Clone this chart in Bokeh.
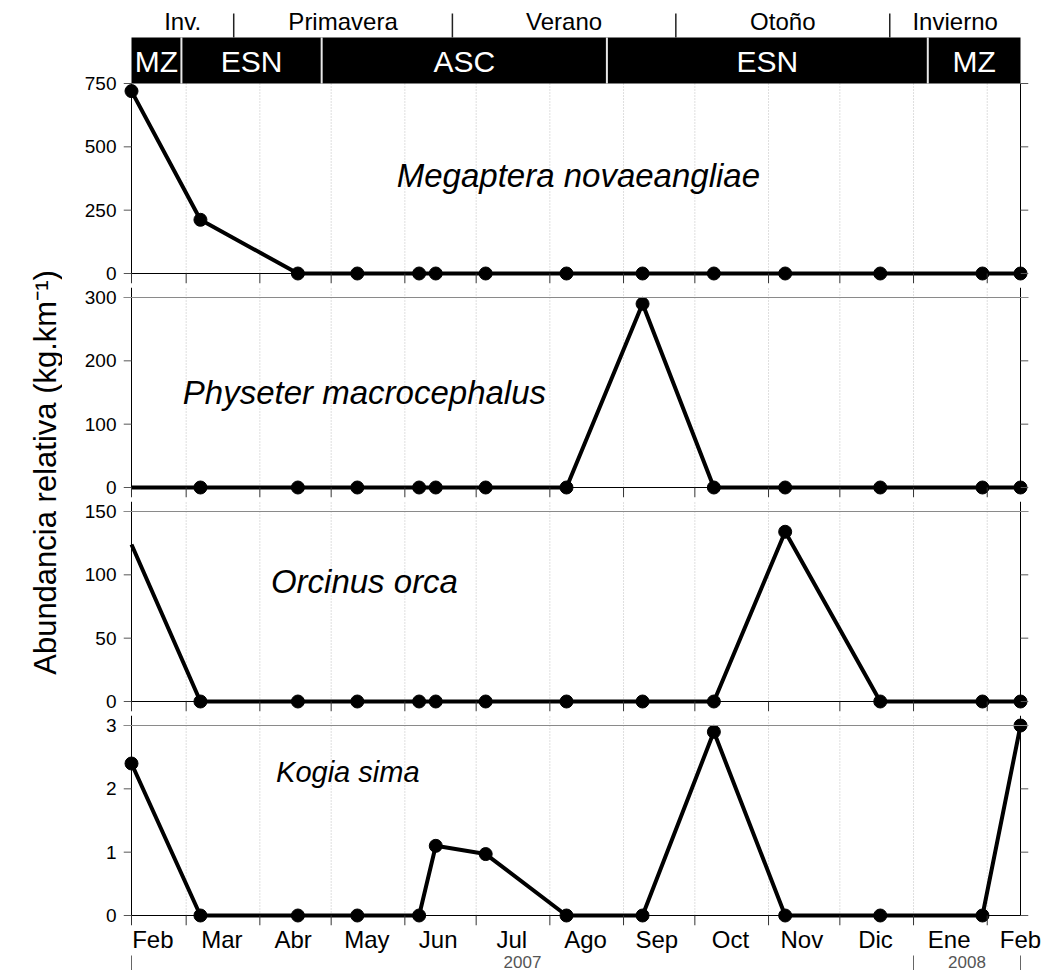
import pandas as pd
from math import pi
from bokeh.plotting import figure
from bokeh.layouts import column, row
from bokeh.models import Range1d, FixedTicker, LinearAxis, Span, Label
from bokeh.core.properties import value
from bokeh.embed import file_html
from bokeh.resources import INLINE

FONT = "Liberation Sans"

# ---------------- data ----------------
fechas = ["2007-02-06", "2007-03-07", "2007-04-17", "2007-05-12", "2007-06-07",
          "2007-06-14", "2007-07-05", "2007-08-08", "2007-09-09", "2007-10-09",
          "2007-11-08", "2007-12-18", "2008-01-30", "2008-02-15"]
megaptera = [720, 212, 0, 0, 0, 0, 0, 0, 0, 0, 0, 0, 0, 0]
physeter = [0, 0, 0, 0, 0, 0, 0, 0, 290, 0, 0, 0, 0, 0]
orcinus = [124, 0, 0, 0, 0, 0, 0, 0, 0, 0, 134, 0, 0, 0]
kogia = [2.4, 0, 0, 0, 0, 1.1, 0.97, 0, 0, 2.9, 0, 0, 0, 3.0]
# first sample drawn with a marker?
primer_marcador = [True, False, False, True]

especies = ["Megaptera novaeangliae", "Physeter macrocephalus", "Orcinus orca", "Kogia sima"]
y_ticks = [[0, 250, 500, 750], [0, 100, 200, 300], [0, 50, 100, 150], [0, 1, 2, 3]]

meses = ["Feb", "Mar", "Abr", "May", "Jun", "Jul", "Ago", "Sep", "Oct", "Nov", "Dic", "Ene", "Feb"]
mes_centro = ["2007-02-15", "2007-03-16", "2007-04-15", "2007-05-16", "2007-06-15",
              "2007-07-16", "2007-08-16", "2007-09-15", "2007-10-16", "2007-11-15",
              "2007-12-16", "2008-01-16", "2008-02-15"]
mes_inicio = ["2007-02-06", "2007-03-01", "2007-04-01", "2007-05-01", "2007-06-01",
              "2007-07-01", "2007-08-01", "2007-09-01", "2007-10-01", "2007-11-01",
              "2007-12-01", "2008-01-01", "2008-02-01"]
rejilla = mes_inicio[1:]

bandas = ["MZ", "ESN", "ASC", "ESN", "MZ"]
banda_inicio = ["2007-02-06", "2007-02-27", "2007-04-27", "2007-08-25", "2008-01-07"]
banda_fin = ["2007-02-27", "2007-04-27", "2007-08-25", "2008-01-07", "2008-02-15"]

estaciones = ["Inv.", "Primavera", "Verano", "Otoño", "Invierno"]
estacion_inicio = ["2007-02-06", "2007-03-21", "2007-06-21", "2007-09-23", "2007-12-22"]
estacion_fin = ["2007-03-21", "2007-06-21", "2007-09-23", "2007-12-22", "2008-02-15"]

anos = ["2007", "2008"]
ano_inicio = ["2007-02-06", "2008-01-01"]
ano_fin = ["2008-01-01", "2008-02-15"]

INICIO = pd.Timestamp("2007-02-06")
FIN = pd.Timestamp("2008-02-15")


def dias(lst):
    return [int((pd.Timestamp(s) - INICIO).days) for s in lst]


x = dias(fechas)
X0, X1 = 0, int((FIN - INICIO).days)
DATA_W = 889                       # pixels between the two vertical axes
TICK = 8                           # y tick length in px
XTICK = 10                         # x tick length in px (also padding below zero)
DATA_H = 190                       # pixels from 0 to the top tick of each panel
FW = DATA_W + 2 * TICK             # frame a bit wider so edge markers are not cut
PAD = TICK * (X1 - X0) / DATA_W    # the same 8 px expressed in days
XR = Range1d(X0 - PAD, X1 + PAD)
LW = 62                            # width of the y-label strip
LEFT = 131 - TICK - LW
RIGHT = 1045 - (LW + LEFT + FW)


def base_fig(frame_h, ybot, ytop, bottom_border, top_border=0):
    p = figure(frame_width=FW, frame_height=frame_h, x_range=XR, y_range=Range1d(ybot, ytop),
               output_backend="svg", toolbar_location=None,
               x_axis_type=None, y_axis_type=None,
               min_border_left=LEFT, min_border_right=RIGHT, min_border_top=top_border,
               min_border_bottom=bottom_border)
    p.outline_line_color = None
    return p


def add_axes(p, ticks, yline_top, s, last=False):
    # tick labels on the left (the axis lines themselves are drawn as glyphs)
    ya = LinearAxis(ticker=FixedTicker(ticks=ticks), axis_line_color=None,
                    major_tick_out=0, major_tick_in=0, minor_tick_out=0, minor_tick_in=0,
                    major_label_text_font=FONT, major_label_text_font_size="19px",
                    major_label_text_color="black", major_label_standoff=7)
    p.add_layout(ya, "left")
    # vertical axis lines at both ends of the time range
    p.segment(x0=[X0, X1], y0=[0, 0], x1=[X0, X1], y1=[yline_top] * 2,
              line_color="black", line_width=1)
    # outward y ticks on both sides
    n = len(ticks)
    p.segment(x0=[X0 - PAD] * n + [X1] * n, y0=ticks + ticks,
              x1=[X0] * n + [X1 + PAD] * n, y1=ticks + ticks,
              line_color="#555", line_width=1)
    # x axis line at zero and month ticks below it
    m = dias(mes_inicio)
    p.segment(x0=[X0], y0=[0], x1=[X1], y1=[0], line_color="black", line_width=1)
    p.segment(x0=m, y0=[0] * len(m), x1=m, y1=[-XTICK * s] * len(m),
              line_color="#333", line_width=1)
    if last:
        lab_days = dias(mes_centro)
        xa = LinearAxis(ticker=FixedTicker(ticks=lab_days), bounds=(X0, X1),
                        axis_line_color=None, major_tick_out=0, major_tick_in=0,
                        minor_tick_out=0, minor_tick_in=0,
                        major_label_overrides={d: mm for d, mm in zip(lab_days, meses)},
                        major_label_text_font=FONT, major_label_text_font_size="24px",
                        major_label_text_color="black", major_label_standoff=0)
        p.add_layout(xa, "below")
        ai, af = dias(ano_inicio), dias(ano_fin)
        centros = [(a + b) / 2 for a, b in zip(ai, af)]
        yt = FixedTicker(ticks=centros, minor_ticks=sorted(set(ai + af)))
        xa2 = LinearAxis(ticker=yt, bounds=(X0, X1), axis_line_color=None,
                         major_tick_out=0, major_tick_in=0,
                         minor_tick_out=15, minor_tick_in=0, minor_tick_line_color="#666",
                         major_label_overrides={c: t for c, t in zip(centros, anos)},
                         major_label_text_font=FONT, major_label_text_font_size="17px",
                         major_label_text_color="#555", major_label_standoff=-15)
        p.add_layout(xa2, "below")


def add_data(p, vals, gtop, first_marker):
    g = dias(rejilla)
    p.segment(x0=g, y0=[0] * len(g), x1=g, y1=[gtop] * len(g),
              line_color="#bdbdbd", line_width=1, line_dash="1 2")
    p.line(x, vals, line_color="black", line_width=4)
    k = 0 if first_marker else 1
    p.scatter(x[k:], vals[k:], size=13, color="black")


# ---------------- panel 1 (with header band) ----------------
HDR = 75
s1 = y_ticks[0][-1] / DATA_H
p1 = base_fig(HDR + DATA_H + XTICK, -XTICK * s1, (DATA_H + HDR) * s1, 4, top_border=8)
p1.extra_y_ranges = {"hdr": Range1d(-(DATA_H + XTICK), HDR)}
add_data(p1, megaptera, y_ticks[0][-1], primer_marcador[0])
bi, bf = dias(banda_inicio), dias(banda_fin)
p1.quad(left=bi, right=bf, bottom=0, top=46, y_range_name="hdr",
        fill_color="black", line_color=None)
p1.segment(x0=bi[1:], y0=[0] * 4, x1=bi[1:], y1=[46] * 4, y_range_name="hdr",
           line_color="#e8e8e8", line_width=2)
p1.text(x=[(a + b) / 2 for a, b in zip(bi, bf)], y=[22] * 5, text=bandas,
        y_range_name="hdr", text_color="white", text_font=value(FONT),
        text_font_size="30px", text_align="center", text_baseline="middle")
ei, ef = dias(estacion_inicio), dias(estacion_fin)
p1.text(x=[(a + b) / 2 for a, b in zip(ei, ef)], y=[62] * 5, text=estaciones,
        y_range_name="hdr", text_color="black", text_font=value(FONT),
        text_font_size="24px", text_align="center", text_baseline="middle")
p1.segment(x0=ei[1:], y0=[46] * 4, x1=ei[1:], y1=[70] * 4, y_range_name="hdr",
           line_color="#222", line_width=1.5)
add_axes(p1, y_ticks[0], y_ticks[0][-1], s1)
p1.add_layout(Label(x=188, y=386, text=especies[0], text_font=FONT, text_font_size="33px",
                    text_color="black", text_font_style="italic",
                    text_align="center", text_baseline="middle"))

# ---------------- panels 2-4 ----------------
panels = [p1]
vals_all = [physeter, orcinus, kogia]
label_pos = [(98, 150), (98, 95), (91, 2.27)]
label_size = ["33px", "33px", "29px"]
for i, vals in enumerate(vals_all):
    ymax = y_ticks[i + 1][-1]
    last = i == 2
    s = ymax / DATA_H
    ytop = (DATA_H + 10) * s
    p = base_fig(DATA_H + 10 + XTICK, -XTICK * s, ytop, 0 if last else 4)
    add_data(p, vals, ytop, primer_marcador[i + 1])
    p.add_layout(Span(location=ymax, dimension="width", line_color="#8a8a8a", line_width=1.2))
    add_axes(p, y_ticks[i + 1], ytop, s, last)
    lx, ly = label_pos[i]
    p.add_layout(Label(x=lx, y=ly, text=especies[i + 1], text_font=FONT,
                       text_font_size=label_size[i], text_color="black",
                       text_font_style="italic", text_align="center", text_baseline="middle"))
    panels.append(p)

# ---------------- y label ----------------
lab = figure(frame_width=LW, frame_height=960, x_range=Range1d(0, 1), y_range=Range1d(0, 1),
             x_axis_type=None, y_axis_type=None, output_backend="svg",
             toolbar_location=None, min_border=0)
lab.outline_line_color = None
lab.add_layout(Label(x=45, y=960 - 472, x_units="screen", y_units="screen",
                     text="Abundancia relativa (kg.km⁻¹)", angle=pi / 2,
                     text_font=FONT, text_font_size="31px", text_color="black",
                     text_align="center", text_baseline="middle"))

layout = row(lab, column(*panels, spacing=0), spacing=0)
open("out.html", "w").write(file_html(layout, INLINE))
